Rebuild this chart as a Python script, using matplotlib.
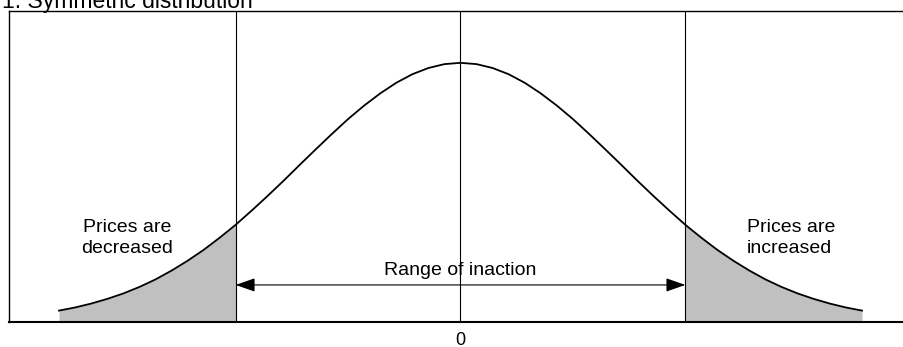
import numpy as np
import matplotlib.pyplot as plt

plt.rcParams['font.family'] = ['Liberation Sans', 'DejaVu Sans']

# Curve (x in std units, height relative to peak)
x_pts = [-2.5, -2.4, -2.3, -2.2, -2.1, -2.0, -1.9, -1.8, -1.7, -1.6, -1.5,
         -1.4, -1.3, -1.2, -1.1, -1.0, -0.9, -0.8, -0.7, -0.6, -0.5,
         -0.4, -0.3, -0.2, -0.1, 0.0, 0.1, 0.2, 0.3, 0.4, 0.5,
         0.6, 0.7, 0.8, 0.9, 1.0, 1.1, 1.2, 1.3, 1.4, 1.5,
         1.6, 1.7, 1.8, 1.9, 2.0, 2.1, 2.2, 2.3, 2.4, 2.5]
half = [1.000, 0.995, 0.980, 0.956, 0.923, 0.882, 0.835, 0.783, 0.726, 0.667,
        0.607, 0.546, 0.487, 0.430, 0.375, 0.325, 0.278, 0.236, 0.198, 0.164,
        0.135, 0.110, 0.089, 0.071, 0.056, 0.044]
y_pts = half[::-1] + half[1:]

cut_low = -1.4
cut_high = 1.4
tick_pos = [0]
tick_labels = ["0"]

x = np.array(x_pts)
y = np.array(y_pts)

fig = plt.figure(figsize=(9.04, 3.47), dpi=100)
ax = fig.add_axes([9 / 904, 25 / 347, 895 / 904, 311 / 347])

# shaded tails
ax.fill_between(x, 0, y, where=(x <= cut_low), color="#c0c0c0", linewidth=0)
ax.fill_between(x, 0, y, where=(x >= cut_high), color="#c0c0c0", linewidth=0)
ax.plot(x, y, color="black", linewidth=1.3)

for v in [cut_low, 0, cut_high]:
    ax.axvline(v, color="black", linewidth=0.8)

ax.annotate("", xy=(cut_low, 0.143), xytext=(cut_high, 0.143),
            arrowprops=dict(arrowstyle="<|-|>,head_length=1.0,head_width=0.35",
                            color="black", linewidth=0.8, mutation_scale=12,
                            shrinkA=0, shrinkB=0))
ax.text(0, 0.2, "Range of inaction", ha="center", va="center", fontsize=14)
ax.text(-2.077, 0.324, "Prices are\ndecreased", ha="center", va="center",
        fontsize=14, linespacing=1.3)
ax.text(1.784, 0.324, "Prices are\nincreased", ha="left", va="center",
        fontsize=14, linespacing=1.3)

ax.set_xlim((9 - 460.5) / 160.6, (904 - 460.5) / 160.6)
ax.set_ylim(0, 1.2)
ax.set_xticks(tick_pos)
ax.set_xticklabels(tick_labels, fontsize=13)
ax.tick_params(axis="x", length=0, pad=7)
ax.set_yticks([])
ax.spines["right"].set_visible(False)
for s in ["left", "top"]:
    ax.spines[s].set_linewidth(1.0)
ax.spines["bottom"].set_linewidth(1.5)

fig.text(2 / 904, 1 - 8 / 347, "1. Symmetric distribution", ha="left",
         va="baseline", fontsize=16.5)

fig.savefig("out.png", dpi=100)
